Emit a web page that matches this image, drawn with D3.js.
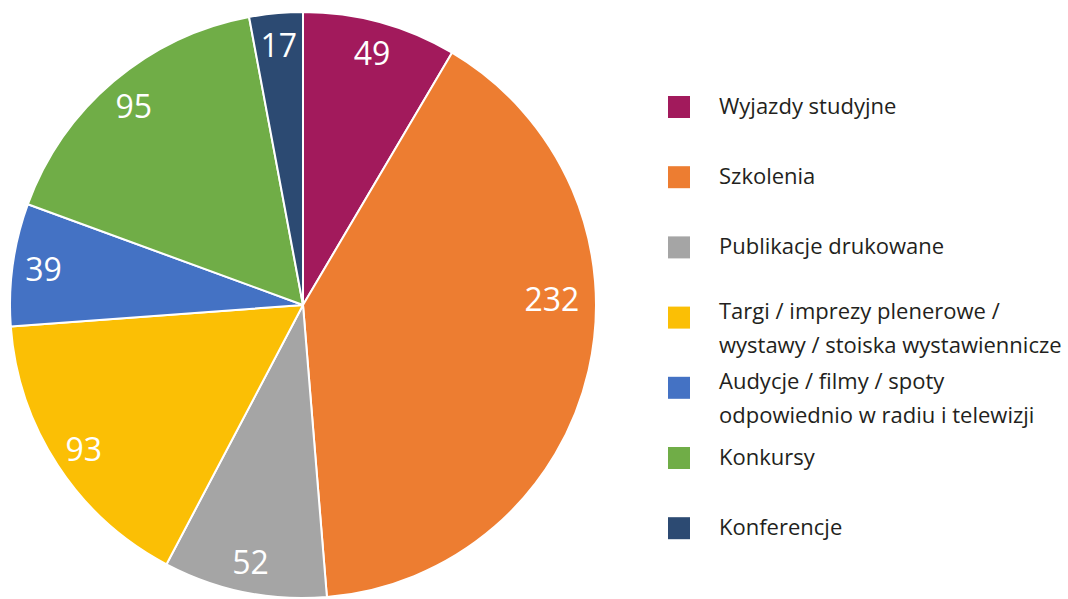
<!DOCTYPE html>
<html>
<head>
<meta charset="utf-8">
<script src="https://cdn.jsdelivr.net/npm/d3@7"></script>
<style>
  html, body { margin: 0; padding: 0; background: #fff; }
  svg { display: block; font-family: "Open Sans", "Noto Sans", sans-serif; }
</style>
</head>
<body>
<svg id="chart" width="1068" height="599"></svg>
<script>
// data
var categories = [
  ['Wyjazdy studyjne'],
  ['Szkolenia'],
  ['Publikacje drukowane'],
  ['Targi / imprezy plenerowe /', 'wystawy / stoiska wystawiennicze'],
  ['Audycje / filmy / spoty', 'odpowiednio w radiu i telewizji'],
  ['Konkursy'],
  ['Konferencje']
];
var values = [49, 232, 52, 93, 39, 95, 17];
var colors = ['#A21A5C', '#ED7D31', '#A5A5A5', '#FBBF05', '#4472C4', '#70AD47', '#2C4A72'];

var svg = d3.select('#chart'),
    cx = 303,
    cy = 305,
    radius = 293,
    labelRadius = 262;

var data = values.map(function(v, i) {
  return { value: v, name: categories[i], color: colors[i] };
});

var pie = d3.pie()
  .value(function(d) { return d.value; })
  .sort(null);

var arc = d3.arc().innerRadius(0).outerRadius(radius);

var arcs = pie(data);

var g = svg.append('g').attr('transform', 'translate(' + cx + ',' + cy + ')');

g.selectAll('path')
  .data(arcs)
  .enter()
    .append('path')
    .attr('d', arc)
    .attr('fill', function(d) { return d.data.color; })
    .attr('stroke', '#fff')
    .attr('stroke-width', 2)
    .attr('stroke-linejoin', 'round');

// big slice gets its label on the chart side, the rest sit on the mid angle
function isBig(d) { return d.endAngle - d.startAngle > 2; }

function labelAngle(d) {
  if (isBig(d)) return Math.PI / 2 - 0.028;
  return (d.startAngle + d.endAngle) / 2;
}

g.selectAll('text.val')
  .data(arcs)
  .enter()
    .append('text')
    .attr('class', 'val')
    .attr('x', function(d) { return Math.sin(labelAngle(d)) * (isBig(d) ? 249 : labelRadius); })
    .attr('y', function(d) { return -Math.cos(labelAngle(d)) * (isBig(d) ? 249 : labelRadius); })
    .attr('text-anchor', 'middle')
    .attr('dominant-baseline', 'central')
    .attr('fill', '#fff')
    .attr('font-size', 32)
    .text(function(d) { return d.data.value; });

// legend
var legendTop = 96,
    legendStep = 70.2;

var items = svg.append('g').selectAll('g')
  .data(data)
  .enter()
    .append('g')
    .attr('transform', function(d, i) { return 'translate(668,' + (legendTop + i * legendStep) + ')'; });

items.append('rect')
  .attr('width', 22)
  .attr('height', 22)
  .attr('fill', function(d) { return d.color; });

items.each(function(d) {
  var t = d3.select(this).append('text')
    .attr('fill', '#231F20')
    .attr('font-size', 22);
  var twoLines = d.name.length > 1;
  d.name.forEach(function(line, j) {
    t.append('tspan')
      .attr('x', 51)
      .attr('y', (twoLines ? 12 : 18) + j * 34)
      .text(line);
  });
});
</script>
</body>
</html>
